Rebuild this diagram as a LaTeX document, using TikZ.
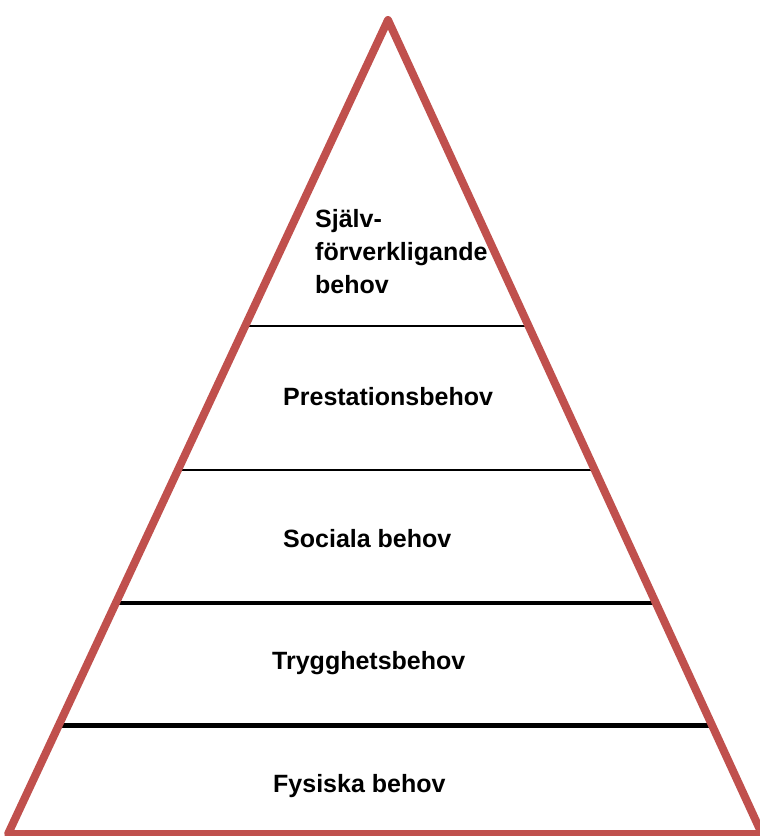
\documentclass[tikz,border=0pt]{standalone}
\usepackage{fontspec}
\setmainfont{Liberation Sans}
\usetikzlibrary{calc}
\definecolor{pyrred}{HTML}{C0504D}

\begin{document}
\begin{tikzpicture}[
  x=1pt, y=-1pt,
  lvl/.style={anchor=base west, inner sep=0pt, font=\bfseries\fontsize{25}{33}\selectfont},
  thinsep/.style={line width=1.5pt},
  thicksep/.style={line width=4pt},
  edge/.style={draw=pyrred, line width=8pt, line join=round}
]
\useasboundingbox (0,0) rectangle (760,836);

% -------------------------------------------------
% Corners of the pyramid
% -------------------------------------------------
\coordinate (top) at (388,20);
\coordinate (bl) at (8,834);
\coordinate (br) at (762,834);

% -------------------------------------------------
% Level separators (ends on the red edges)
% -------------------------------------------------
\coordinate (s1l) at ($(top)!0.376!(bl)$);
\coordinate (s1r) at ($(top)!0.376!(br)$);
\coordinate (s2l) at ($(top)!0.553!(bl)$);
\coordinate (s2r) at ($(top)!0.553!(br)$);
\coordinate (s3l) at ($(top)!0.716!(bl)$);
\coordinate (s3r) at ($(top)!0.716!(br)$);
\coordinate (s4l) at ($(top)!0.867!(bl)$);
\coordinate (s4r) at ($(top)!0.867!(br)$);

\draw[thinsep] (s1l) -- (s1r);
\draw[thinsep] (s2l) -- (s2r);
\draw[thicksep] (s3l) -- (s3r);
\draw[thicksep, line width=5pt] (s4l) -- (s4r);

% -------------------------------------------------
% Outline
% -------------------------------------------------
\draw[edge] (top) -- (br) -- (bl) -- cycle;

% -------------------------------------------------
% LEVEL LABELS
% -------------------------------------------------
\node[lvl, align=left] (self) at (315,293) {Själv-\\förverkligande\\behov};
\node[lvl] (pres) at (283,405) {Prestationsbehov};
\node[lvl] (soc) at (283,547) {Sociala behov};
\node[lvl] (tryg) at (272,669) {Trygghetsbehov};
\node[lvl] (fys) at (273,792) {Fysiska behov};

\end{tikzpicture}
\end{document}
